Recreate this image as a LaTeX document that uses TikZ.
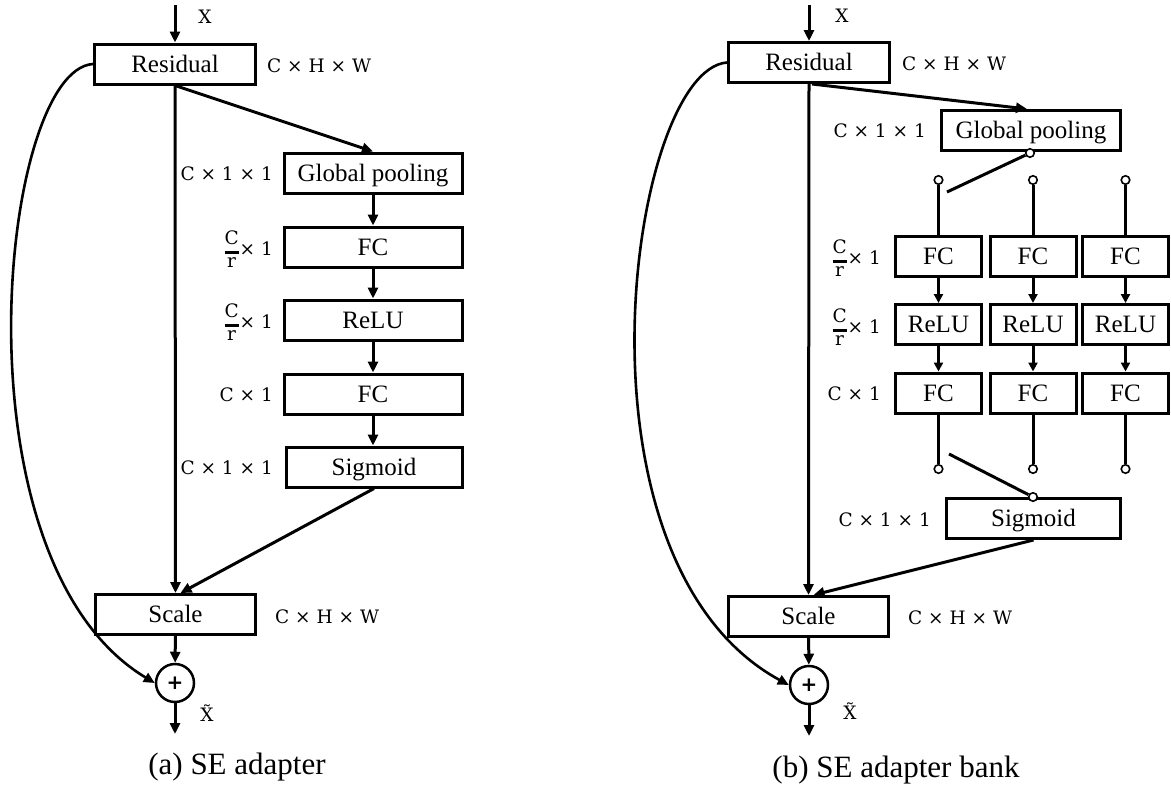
\documentclass[tikz,border=0pt]{standalone}
\usepackage{fontspec}
\setmainfont{Liberation Serif}
\newfontfamily\dimfont{DejaVu Serif}
\newfontfamily\plusfont{DejaVu Sans}
\usetikzlibrary{arrows.meta}

% stacked C over r with a heavy bar, bar placed on the middle of the line
\newcommand\crfrac{\raisebox{-12pt}{\vbox{\offinterlineskip
  \hbox to 14pt{\hss C\hss}\kern7pt
  \hrule height 2.6pt\kern4pt
  \hbox to 14pt{\hss r\hss}}}}

\tikzset{
  blk/.style={draw, line width=3pt, inner sep=0pt, minimum height=40pt,
    text height=17pt, text depth=1pt, font=\fontsize{25}{27}\selectfont},
  dim/.style={inner sep=0pt, font=\dimfont\fontsize{18.5}{21}\selectfont},
  subcaption/.style={inner sep=0pt, font=\fontsize{31}{34}\selectfont},
  plus/.style={circle, draw, line width=2.5pt, minimum size=38pt, inner sep=0pt,
    font=\plusfont\bfseries\fontsize{20}{20}\selectfont},
  pinc/.style={circle, draw, fill=white, line width=1.6pt, minimum size=8.5pt, inner sep=0pt},
  ln/.style={line width=3pt},
  arr/.style={line width=3pt, -{Triangle[length=11pt,width=10pt]}},
  sarr/.style={line width=3pt, -{Triangle[length=9pt,width=9pt]}},
}

\begin{document}
\begin{tikzpicture}[x=1pt, y=-1pt]
\useasboundingbox (0,0) rectangle (1171,795);

% ---------------- (a) SE adapter ----------------
\coordinate (in1) at (175,5);
\coordinate (out1) at (175,734);
\node[blk, minimum width=161pt] (res1) at (175,64) {Residual};
\node[blk, minimum width=178pt] (gp1) at (373,173) {Global pooling};
\node[blk, minimum width=178pt] (fc1a) at (373,247) {FC};
\node[blk, minimum width=178pt] (relu1) at (373,320) {ReLU};
\node[blk, minimum width=178pt] (fc1b) at (373,394) {FC};
\node[blk, minimum width=176pt] (sig1) at (374,467) {Sigmoid};
\node[blk, minimum width=160pt] (scale1) at (175.5,614.5) {Scale};
\node[plus] (plus1) at (175,683) {+};

\node[dim] (x1) at (205,17) {X};
\node[dim, anchor=west] (d1a) at (267,66) {C × H × W};
\node[dim, anchor=east] (d1b) at (273,174) {C × 1 × 1};
\node[dim, anchor=east] (d1c) at (273,249) {\crfrac\kern1pt× 1};
\node[dim, anchor=east] (d1d) at (273,322) {\crfrac\kern1pt× 1};
\node[dim, anchor=east] (d1e) at (273,395) {C × 1};
\node[dim, anchor=east] (d1f) at (273,468) {C × 1 × 1};
\node[dim, anchor=west] (d1g) at (275,617) {C × H × W};
\node[dim] (xt1) at (207,713) {X̃};
\node[subcaption] (cap1) at (237,767) {(a) SE adapter};

\draw[arr] (in1) -- (res1.north);
\draw[arr] (res1.south) -- (scale1.north);
\draw[arr] (res1.south) -- (gp1.north);
\draw[arr] (gp1) -- (fc1a);
\draw[arr] (fc1a) -- (relu1);
\draw[arr] (relu1) -- (fc1b);
\draw[arr] (fc1b.south) -- (fc1b.south |- sig1.north);
\draw[arr] (sig1.south) -- ([xshift=5pt]scale1.north);
\draw[arr] (scale1) -- (plus1);
\draw[arr] (plus1) -- (out1);
\draw[arr, line width=2.6pt] (res1.west) .. controls (0,70) and (-50,560) .. (plus1.west);

% ---------------- (b) SE adapter bank ----------------
\coordinate (in2) at (809,5);
\coordinate (out2) at (809,736);
\node[blk, minimum width=161pt] (res2) at (809,62.5) {Residual};
\node[blk, minimum width=179pt] (gp2) at (1031,130.5) {Global pooling};

\foreach \c/\x in {1/938.5, 2/1033, 3/1125.5} {
  \node[blk, minimum width=86pt] (fca\c) at (\x,256) {FC};
  \node[blk, minimum width=86pt] (relu\c) at (\x,324.5) {ReLU};
  \node[blk, minimum width=86pt] (fcb\c) at (\x,393) {FC};
  \node[pinc] (t\c) at (\x,180) {};
  \node[pinc] (b\c) at (\x,469) {};
  \draw[ln] (t\c) -- (fca\c);
  \draw[sarr] (fca\c) -- (relu\c);
  \draw[sarr] (relu\c) -- (fcb\c);
  \draw[ln] (fcb\c) -- (b\c);
}

\node[blk, minimum width=174pt] (sig2) at (1033.5,518.5) {Sigmoid};
\node[blk, minimum width=160pt] (scale2) at (808.5,616.5) {Scale};
\node[plus] (plus2) at (809,685) {+};

% switch contacts
\node[pinc] (g) at (1030,153) {};
\coordinate (sw1) at (947,192);
\node[pinc] (s) at (1033,497) {};
\coordinate (sw2) at (949,454);

\node[dim] (x2) at (842,16) {X};
\node[dim, anchor=west] (d2a) at (902,64) {C × H × W};
\node[dim, anchor=east] (d2b) at (926,131) {C × 1 × 1};
\node[dim, anchor=east] (d2c) at (881,258) {\crfrac\kern1pt× 1};
\node[dim, anchor=east] (d2d) at (881,327) {\crfrac\kern1pt× 1};
\node[dim, anchor=east] (d2e) at (881,394) {C × 1};
\node[dim, anchor=east] (d2f) at (931,520) {C × 1 × 1};
\node[dim, anchor=west] (d2g) at (908,618) {C × H × W};
\node[dim] (xt2) at (850,711) {X̃};
\node[subcaption] (cap2) at (896,770) {(b) SE adapter bank};

\draw[arr] (in2) -- (res2.north);
\draw[arr] (res2.south) -- (scale2.north);
\draw[arr] ([xshift=3pt]res2.south) -- ([xshift=-4pt]gp2.north);
\draw[ln] (g) -- (sw1);
\draw[ln] (sw2) -- (s);
\draw[arr] (sig2.south) -- ([xshift=5pt]scale2.north);
\draw[arr] (scale2) -- (plus2);
\draw[arr] (plus2) -- (out2);
\draw[arr, line width=2.6pt] (res2.west) .. controls (630,70) and (560,560) .. (plus2.west);
\end{tikzpicture}
\end{document}
